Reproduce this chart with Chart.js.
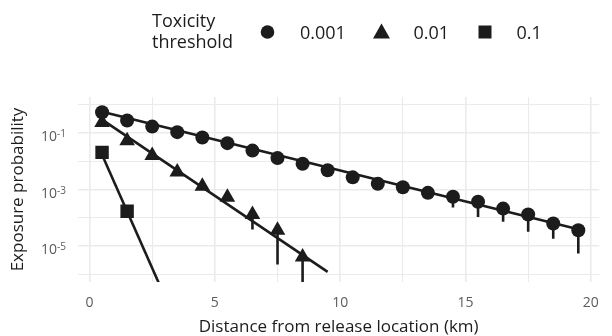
<!DOCTYPE html>
<html>
<head>
<meta charset="utf-8">
<script src="https://cdn.jsdelivr.net/npm/chart.js@4.4.1/dist/chart.umd.min.js"></script>
<style>
  html, body { margin: 0; padding: 0; background: #fff; }
</style>
</head>
<body>
<canvas id="exposureChart" width="612" height="336"></canvas>
<script>
// Probabilidad de exposición por umbral de toxicidad
const dist001 = [0.5, 1.5, 2.5, 3.5, 4.5, 5.5, 6.5, 7.5, 8.5, 9.5, 10.5, 11.5, 12.5, 13.5, 14.5, 15.5, 16.5, 17.5, 18.5, 19.5];
const prob001 = [0.55, 0.28, 0.17, 0.108, 0.070, 0.044, 0.024, 0.013, 0.0082, 0.0048, 0.0027, 0.0016, 0.0012, 0.00076, 0.00055, 0.00037, 0.00021, 0.00013, 0.000062, 0.000036];
const low001 = [null, null, null, null, null, null, null, null, null, null, null, null, null, null, 0.00023, 0.000105, 0.000072, 0.000032, 0.000018, 0.0000054];

const dist01 = [0.5, 1.5, 2.5, 3.5, 4.5, 5.5, 6.5, 7.5, 8.5];
const prob01 = [0.24, 0.053, 0.016, 0.0042, 0.0013, 0.00053, 0.00013, 0.000036, 0.000004];
const low01 = [null, null, null, null, null, null, 0.000038, 0.0000022, 0.0000001];

const dist1 = [0.5, 1.5];
const prob1 = [0.0207, 0.00017];

// rectas ajustadas (extremos)
const fitDist001 = [0.5, 19.5];
const fit001 = [0.57, 0.000039];
const fitDist01 = [0.5, 9.5];
const fit01 = [0.3, 0.0000012];
const fitDist1 = [0.5, 3.5];
const fit1 = [0.017, 0.000000016];

const legendLabels = ['0.001', '0.01', '0.1'];
const xTicks = [0, 2.5, 5, 7.5, 10, 12.5, 15, 17.5, 20];
const xTickLabels = ['0', '', '5', '', '10', '', '15', '', '20'];
const yTickExps = [0, -1, -2, -3, -4, -5, -6];
const yLabelExps = [-1, -3, -5];

const ink = '#1c1c1c';
const gridColor = '#ebebeb';
const tickColor = '#5c5c5c';
const fontFamily = '"Open Sans", "Noto Sans", sans-serif';

const toPoints = (xs, ys) => xs.map((x, i) => ({ x: x, y: ys[i] }));

const markerSet = (label, xs, ys, style, radius) => ({
    label: label,
    data: toPoints(xs, ys),
    showLine: false,
    pointStyle: style,
    pointRadius: radius,
    pointHoverRadius: radius,
    pointBackgroundColor: ink,
    pointBorderColor: ink,
    pointBorderWidth: 0,
    order: 1
});

const fitSet = (xs, ys) => ({
    data: toPoints(xs, ys),
    borderColor: ink,
    borderWidth: 2.6,
    pointRadius: 0,
    fill: false,
    order: 2
});

const errorBars = {
    id: 'errorBars',
    beforeDatasetsDraw(chart) {
        const { ctx, chartArea, scales: { x, y } } = chart;
        ctx.save();
        ctx.beginPath();
        ctx.rect(chartArea.left, chartArea.top, chartArea.width, chartArea.height);
        ctx.clip();
        ctx.strokeStyle = ink;
        ctx.lineWidth = 2.6;
        [[dist001, prob001, low001], [dist01, prob01, low01]].forEach(([xs, ys, lows]) => {
            lows.forEach((lo, i) => {
                if (lo === null) return;
                const px = x.getPixelForValue(xs[i]);
                ctx.beginPath();
                ctx.moveTo(px, y.getPixelForValue(ys[i]));
                ctx.lineTo(px, y.getPixelForValue(lo));
                ctx.stroke();
            });
        });
        ctx.restore();
    }
};

const extras = {
    id: 'extras',
    afterDraw(chart) {
        const { ctx, scales: { y } } = chart;
        ctx.save();
        // etiquetas del eje y: 10^n
        ctx.fillStyle = tickColor;
        ctx.textBaseline = 'alphabetic';
        ctx.textAlign = 'left';
        yLabelExps.forEach(e => {
            const py = y.getPixelForValue(Math.pow(10, e));
            ctx.font = '14px ' + fontFamily;
            const base = '10';
            const wBase = ctx.measureText(base).width;
            ctx.font = '10px ' + fontFamily;
            const sup = String(e);
            const wSup = ctx.measureText(sup).width;
            const x0 = 66 - wBase - wSup;
            ctx.font = '14px ' + fontFamily;
            ctx.fillText(base, x0, py + 8);
            ctx.font = '10px ' + fontFamily;
            ctx.fillText(sup, x0 + wBase, py + 4);
        });

        // leyenda
        ctx.fillStyle = ink;
        ctx.font = '18px ' + fontFamily;
        ctx.fillText('Toxicity', 152, 27);
        ctx.fillText('threshold', 152, 48);
        const cy = 32;
        // círculo
        ctx.beginPath();
        ctx.arc(267.5, cy, 6.8, 0, Math.PI * 2);
        ctx.fill();
        ctx.fillText(legendLabels[0], 300, 38.5);
        // triángulo
        ctx.beginPath();
        ctx.moveTo(381.5, cy - 8.5);
        ctx.lineTo(390, cy + 6.5);
        ctx.lineTo(373, cy + 6.5);
        ctx.closePath();
        ctx.fill();
        ctx.fillText(legendLabels[1], 413.5, 38.5);
        // cuadrado
        ctx.fillRect(478.5, cy - 6.5, 13, 13);
        ctx.fillText(legendLabels[2], 516.5, 38.5);
        ctx.restore();
    }
};

const ctxExp = document.getElementById('exposureChart').getContext('2d');
const exposureChart = new Chart(ctxExp, {
    type: 'line',
    data: {
        datasets: [
            markerSet(legendLabels[0], dist001, prob001, 'circle', 7),
            markerSet(legendLabels[1], dist01, prob01, 'triangle', 9),
            markerSet(legendLabels[2], dist1, prob1, 'rect', 9.5),
            fitSet(fitDist001, fit001),
            fitSet(fitDist01, fit01),
            fitSet(fitDist1, fit1)
        ]
    },
    options: {
        responsive: false,
        animation: false,
        devicePixelRatio: 1,
        layout: { padding: { top: 97, left: 0, right: 0, bottom: 0 } },
        plugins: { legend: { display: false }, tooltip: { enabled: false } },
        scales: {
            x: {
                type: 'linear',
                min: -0.46,
                max: 20.34,
                afterFit: s => { s.height = 54; },
                afterBuildTicks: s => { s.ticks = xTicks.map(v => ({ value: v })); },
                grid: {
                    color: gridColor,
                    lineWidth: c => (c.index % 2 === 0 ? 1.6 : 1.1),
                    drawTicks: false
                },
                border: { display: false },
                ticks: {
                    autoSkip: false,
                    maxRotation: 0,
                    padding: 13,
                    color: tickColor,
                    font: { family: fontFamily, size: 14 },
                    callback: (v, i) => xTickLabels[i]
                },
                title: {
                    display: true,
                    text: 'Distance from release location (km)',
                    color: ink,
                    font: { family: fontFamily, size: 17, lineHeight: 1 },
                    padding: { top: 0, bottom: 0 }
                }
            },
            y: {
                type: 'logarithmic',
                min: Math.pow(10, -6.28),
                max: Math.pow(10, 0.28),
                afterFit: s => { s.width = 78; },
                afterBuildTicks: s => { s.ticks = yTickExps.map(e => ({ value: Math.pow(10, e) })); },
                grid: {
                    color: gridColor,
                    lineWidth: c => (c.index % 2 === 1 ? 1.6 : 1.1),
                    drawTicks: false
                },
                border: { display: false },
                ticks: { display: false },
                title: {
                    display: true,
                    text: 'Exposure probability',
                    color: ink,
                    font: { family: fontFamily, size: 17, lineHeight: 1 },
                    padding: { top: 10, bottom: 0 }
                }
            }
        }
    },
    plugins: [errorBars, extras]
});
</script>
</body>
</html>
